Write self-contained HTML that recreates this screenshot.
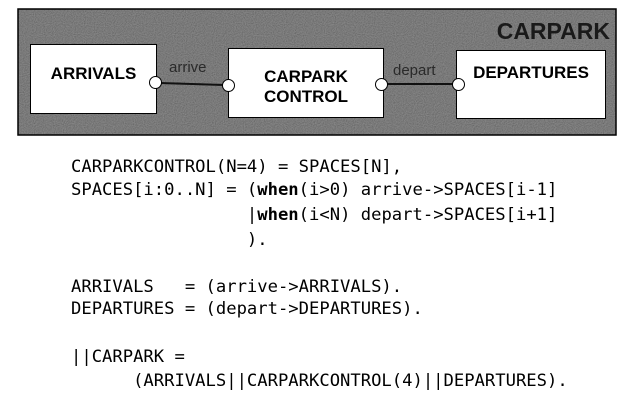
<!DOCTYPE html>
<html><head><meta charset="utf-8"><style>
body{margin:0;background:#fff;width:634px;height:402px;position:relative;overflow:hidden;font-family:"Liberation Sans",sans-serif}
.box{position:absolute;background:#fff;border:1.5px solid #000;text-align:center;font-weight:bold;font-size:17px;line-height:20px;box-sizing:border-box}
.port{position:absolute;width:13px;height:13px;border:1.5px solid #000;border-radius:50%;background:#fff;box-sizing:border-box}
.code{position:absolute;left:71px;font-family:"DejaVu Sans Mono","Liberation Mono",monospace;font-size:17.2px;white-space:pre;color:#000;line-height:20px}
</style></head><body>
<svg width="634" height="140" style="position:absolute;left:0;top:0">
<defs><filter id="n" x="18" y="9" width="598" height="126" filterUnits="userSpaceOnUse"><feTurbulence type="fractalNoise" baseFrequency="0.9" numOctaves="1"/><feColorMatrix type="saturate" values="0"/><feComponentTransfer><feFuncA type="linear" slope="0" intercept="1"/></feComponentTransfer></filter></defs>
<rect x="18" y="9" width="598" height="126" fill="#444"/>
<rect x="18" y="9" width="598" height="126" filter="url(#n)" opacity="0.45"/>
<rect x="18" y="9" width="598" height="126" fill="none" stroke="#000" stroke-width="1.5"/>
<line x1="160" y1="83" x2="224" y2="85" stroke="#111" stroke-width="2"/>
<line x1="386" y1="84" x2="453" y2="84" stroke="#111" stroke-width="2"/>
<text x="610" y="39" text-anchor="end" font-family="Liberation Sans" font-weight="bold" font-size="23" fill="#1a1a1a">CARPARK</text>
<text x="169" y="72" font-family="Liberation Sans" font-size="15" fill="#2a2a2a">arrive</text>
<text x="393" y="75" font-family="Liberation Sans" font-size="15" fill="#2a2a2a">depart</text>
</svg>
<div class="box" style="left:30px;top:44px;width:127px;height:70px;padding-top:19px">ARRIVALS</div>
<div class="box" style="left:228px;top:48px;width:156px;height:70px;padding-top:18px;line-height:20px">CARPARK<br>CONTROL</div>
<div class="box" style="left:456px;top:50px;width:150px;height:69px;padding-top:12px">DEPARTURES</div>
<div class="port" style="left:149px;top:76px"></div>
<div class="port" style="left:222px;top:79px"></div>
<div class="port" style="left:375px;top:78px"></div>
<div class="port" style="left:452px;top:78px"></div>
<div class="code" style="top:157px">CARPARKCONTROL(N=4) = SPACES[N],</div>
<div class="code" style="top:180px">SPACES[i:0..N] = (<b>when</b>(i&gt;0) arrive-&gt;SPACES[i-1]</div>
<div class="code" style="top:205px">                 |<b>when</b>(i&lt;N) depart-&gt;SPACES[i+1]</div>
<div class="code" style="top:230px">                 ).</div>
<div class="code" style="top:277px">ARRIVALS   = (arrive-&gt;ARRIVALS).</div>
<div class="code" style="top:299px">DEPARTURES = (depart-&gt;DEPARTURES).</div>
<div class="code" style="top:347px">||CARPARK =</div>
<div class="code" style="top:371px">      (ARRIVALS||CARPARKCONTROL(4)||DEPARTURES).</div>
</body></html>
